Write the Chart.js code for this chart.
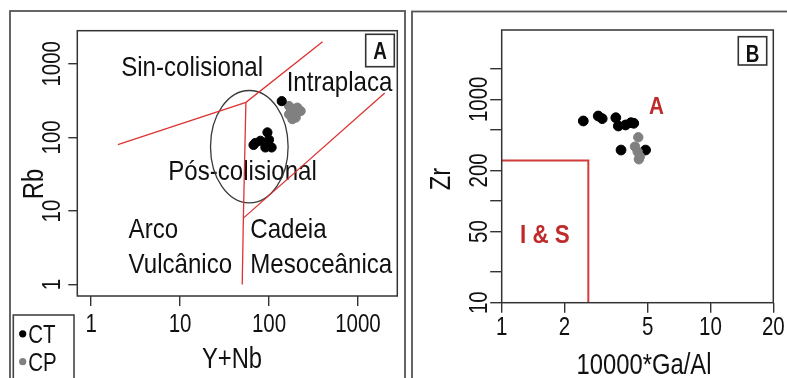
<!DOCTYPE html>
<html>
<head>
<meta charset="utf-8">
<script src="https://cdn.jsdelivr.net/npm/chart.js@4.4.1/dist/chart.umd.min.js"></script>
<style>
  html, body { margin: 0; padding: 0; background: #fff; }
  #wrap { position: relative; width: 787px; height: 378px; overflow: hidden; background: #fff; }
  #wrap canvas { position: absolute; left: 0; top: 0; }
</style>
</head>
<body>
<div id="wrap">
  <canvas id="chartA" width="787" height="378" style="width:787px;height:378px"></canvas>
  <canvas id="chartB" width="787" height="378" style="width:787px;height:378px"></canvas>
</div>
<script>
// ---------- Panel A: Rb vs Y+Nb (Pearce) ----------
const CT_YNB = [139, 96, 70, 80, 100, 107, 91, 67];
const CT_RB  = [311, 117, 84, 90, 93, 73, 73, 79];
const CP_YNB = [168, 208, 227, 191, 168, 200, 183];
const CP_RB  = [267, 254, 228, 217, 206, 186, 177];

// field boundaries (Y+Nb, Rb)
const SYN_WPG_X = [2, 55, 400];
const SYN_WPG_Y = [80, 300, 2000];
const VAG_X = [55, 51.5, 50];
const VAG_Y = [300, 8, 1];
const ORG_X = [51.5, 2000];
const ORG_Y = [8, 400];
// post-collisional field, extents of the ellipse
const POST_COL_X = [22, 164];
const POST_COL_Y = [12.9, 434];

const A_X_TICKS = [1, 10, 100, 1000];
const A_X_LABELS = ['1', '10', '100', '1000'];
const A_Y_TICKS = [1, 10, 100, 1000];
const A_Y_LABELS = ['1', '10', '100', '1000'];

// ---------- Panel B: Zr vs 10000*Ga/Al (Whalen) ----------
const CT_GAAL = [2.46, 2.90, 3.03, 3.52, 3.62, 3.92, 4.16, 4.29, 3.73, 4.89];
const CT_ZR   = [612, 685, 645, 659, 546, 559, 589, 581, 317, 317];
const CP_GAAL = [4.51, 4.35, 4.48, 4.59, 4.54];
const CP_ZR   = [423, 342, 305, 273, 257];

const IS_X = [1, 2.6, 2.6];
const IS_Y = [250, 250, 10];

const B_X_TICKS = [1, 2, 5, 10, 20];
const B_X_LABELS = ['1', '2', '5', '10', '20'];
const B_Y_TICKS = [10, 20, 50, 100, 200, 500, 1000, 2000];
const B_Y_LABELS = ['10', '', '50', '', '200', '', '1000', ''];

// ---------- styling ----------
const SANS = "'Liberation Sans', Arial, sans-serif";
const SQUEEZE = 0.82;          // condensed lettering
const INK = '#111';
const AXIS = '#333';
const RED_A = '#dd3333';
const RED_B = '#d23c3c';
const RED_TEXT = '#bf2a2a';

Chart.defaults.font.family = SANS;
Chart.defaults.color = INK;

function pts(xs, ys) { return xs.map((v, i) => ({ x: v, y: ys[i] })); }

function text(ctx, str, x, y, font, color, align, baseline, rot, sq) {
  ctx.save();
  ctx.translate(x, y);
  if (rot) ctx.rotate(rot);
  ctx.scale(sq || SQUEEZE, 1);
  ctx.font = font;
  ctx.fillStyle = color;
  ctx.textAlign = align;
  ctx.textBaseline = baseline;
  ctx.fillText(str, 0, 0);
  ctx.restore();
}

function logAxis(min, max, ticks, side, tickLen) {
  const horizontal = side === 'bottom';
  return {
    type: 'logarithmic',
    position: side,
    min: min,
    max: max,
    afterBuildTicks: s => { s.ticks = ticks.map(v => ({ value: v })); },
    afterFit: s => { if (horizontal) s.height = 40; else s.width = 30; },
    grid: { display: true, drawOnChartArea: false, drawTicks: true, tickLength: tickLen, color: AXIS, lineWidth: 1.4 },
    border: { display: false },
    ticks: { display: false }
  };
}

// Frame, box, tick labels, titles, annotations, legend
function decor(cfg) {
  return {
    id: 'decor',
    beforeDatasetsDraw(chart) {
      const { ctx, scales: { x, y } } = chart;
      (cfg.notes || []).forEach(n => {
        text(ctx, n.text, x.getPixelForValue(n.x), y.getPixelForValue(n.y), n.font, n.color, 'left', 'alphabetic', 0, 0.86);
      });
      if (cfg.ellipse) {
        const px0 = x.getPixelForValue(cfg.ellipse.x[0]), px1 = x.getPixelForValue(cfg.ellipse.x[1]);
        const py0 = y.getPixelForValue(cfg.ellipse.y[0]), py1 = y.getPixelForValue(cfg.ellipse.y[1]);
        ctx.save();
        ctx.beginPath();
        ctx.ellipse((px0 + px1) / 2, (py0 + py1) / 2, Math.abs(px1 - px0) / 2, Math.abs(py1 - py0) / 2, 0, 0, Math.PI * 2);
        ctx.strokeStyle = '#3a3a3a';
        ctx.lineWidth = 1.3;
        ctx.stroke();
        ctx.restore();
      }
    },
    afterDraw(chart) {
      const { ctx, chartArea: a, scales: { x, y } } = chart;
      ctx.save();
      // outer panel frame
      ctx.strokeStyle = '#555';
      ctx.lineWidth = 1.8;
      ctx.strokeRect(cfg.frame[0], cfg.frame[1], cfg.frame[2], cfg.frame[3]);
      // plot box
      ctx.strokeStyle = AXIS;
      ctx.lineWidth = 1.5;
      ctx.strokeRect(a.left, a.top, a.right - a.left, a.bottom - a.top);
      // panel tag
      const t = cfg.tag;
      ctx.strokeStyle = '#333';
      ctx.lineWidth = 1.6;
      ctx.strokeRect(t.rect[0], t.rect[1], t.rect[2], t.rect[3]);
      text(ctx, t.text, t.rect[0] + t.rect[2] / 2, t.base, 'bold 23px ' + SANS, INK, 'center', 'alphabetic');
      ctx.restore();
      // x tick labels
      x.ticks.forEach((tk, i) => {
        const lab = cfg.xLabels[i];
        if (lab) text(ctx, lab, x.getPixelForValue(tk.value), cfg.xLabelBase, '25px ' + SANS, INK, 'center', 'alphabetic');
      });
      // rotated y tick labels
      y.ticks.forEach((tk, i) => {
        const lab = cfg.yLabels[i];
        if (lab) text(ctx, lab, a.left - cfg.yLabelGap, y.getPixelForValue(tk.value), '25px ' + SANS, INK, 'center', 'alphabetic', -Math.PI / 2);
      });
      // axis titles
      text(ctx, cfg.xTitle.text, cfg.xTitle.x, cfg.xTitle.y, '29px ' + SANS, INK, 'center', 'alphabetic');
      text(ctx, cfg.yTitle.text, cfg.yTitle.x, cfg.yTitle.y, '29px ' + SANS, INK, 'center', 'alphabetic', -Math.PI / 2);
      // legend
      if (cfg.legend) {
        const L = cfg.legend;
        ctx.save();
        ctx.strokeStyle = '#444';
        ctx.lineWidth = 1.6;
        ctx.strokeRect(L.rect[0], L.rect[1], L.rect[2], L.rect[3]);
        chart.data.datasets.filter(d => d.legend).forEach((d, i) => {
          const cy = L.rows[i];
          ctx.beginPath();
          ctx.arc(L.dotX, cy, 3.6, 0, Math.PI * 2);
          ctx.fillStyle = d.backgroundColor;
          ctx.fill();
          text(ctx, d.label, L.textX, cy + 8.8, '25px ' + SANS, INK, 'left', 'alphabetic');
        });
        ctx.restore();
      }
    }
  };
}

const common = {
  responsive: false,
  animation: false,
  devicePixelRatio: 1,
  events: [],
  plugins: { legend: { display: false }, tooltip: { enabled: false } }
};

function boundary(xs, ys, color, width) {
  return { type: 'line', data: pts(xs, ys), borderColor: color, borderWidth: width, pointRadius: 0,
           fill: false, tension: 0, showLine: true, order: 3 };
}

// ---------- Chart A ----------
new Chart(document.getElementById('chartA'), {
  type: 'scatter',
  data: {
    datasets: [
      { label: 'CT', legend: true, data: pts(CT_YNB, CT_RB), backgroundColor: '#000', borderColor: '#000', pointRadius: 4.6, order: 0 },
      { label: 'CP', legend: true, data: pts(CP_YNB, CP_RB), backgroundColor: '#808080', borderColor: '#808080', pointRadius: 4.6, order: 1 },
      boundary(SYN_WPG_X, SYN_WPG_Y, RED_A, 1.3),
      boundary(VAG_X, VAG_Y, RED_A, 1.3),
      boundary(ORG_X, ORG_Y, RED_A, 1.3)
    ]
  },
  options: Object.assign({}, common, {
    layout: { padding: { left: 47.3, right: 389.7, top: 30.7, bottom: 42 } },
    scales: {
      x: logAxis(0.74, 2768, A_X_TICKS, 'bottom', 10),
      y: logAxis(0.749, 2818, A_Y_TICKS, 'left', 9)
    }
  }),
  plugins: [decor({
    frame: [10, 11, 395, 400],
    tag: { text: 'A', rect: [365.7, 34.3, 28.6, 32.4], base: 59.3 },
    xLabels: A_X_LABELS,
    xLabelBase: 332,
    yLabels: A_Y_LABELS,
    yLabelGap: 17,
    xTitle: { text: 'Y+Nb', x: 232, y: 368 },
    yTitle: { text: 'Rb', x: 42.7, y: 184 },
    ellipse: { x: POST_COL_X, y: POST_COL_Y },
    notes: [
      { text: 'Sin-colisional', x: 2.18, y: 692, font: '28px ' + SANS, color: INK },
      { text: 'Intraplaca', x: 158, y: 425, font: '28px ' + SANS, color: INK },
      { text: 'Pós-colisional', x: 7.37, y: 26, font: '28px ' + SANS, color: INK },
      { text: 'Arco', x: 2.64, y: 4.26, font: '28px ' + SANS, color: INK },
      { text: 'Vulcânico', x: 2.64, y: 1.44, font: '28px ' + SANS, color: INK },
      { text: 'Cadeia', x: 61.6, y: 4.26, font: '28px ' + SANS, color: INK },
      { text: 'Mesoceânica', x: 61.6, y: 1.44, font: '28px ' + SANS, color: INK }
    ],
    legend: { rect: [13.3, 315, 60.7, 80], dotX: 22.7, textX: 28.3, rows: [333.8, 361.7] }
  })]
});

// ---------- Chart B ----------
new Chart(document.getElementById('chartB'), {
  type: 'scatter',
  data: {
    datasets: [
      { label: 'CT', data: pts(CT_GAAL, CT_ZR), backgroundColor: '#000', borderColor: '#000', pointRadius: 4.9, order: 1 },
      { label: 'CP', data: pts(CP_GAAL, CP_ZR), backgroundColor: '#808080', borderColor: '#808080', pointRadius: 4.7, order: 0 },
      boundary(IS_X, IS_Y, RED_B, 2)
    ]
  },
  options: Object.assign({}, common, {
    layout: { padding: { left: 471.7, right: 13.7, top: 30, bottom: 35.3 } },
    scales: {
      x: logAxis(1, 20, B_X_TICKS, 'bottom', 10),
      y: logAxis(10, 4800, B_Y_TICKS, 'left', 11.5)
    }
  }),
  plugins: [decor({
    frame: [412, 11.5, 400, 400],
    tag: { text: 'B', rect: [738.3, 36.7, 28.4, 28.3], base: 61.7 },
    xLabels: B_X_LABELS,
    xLabelBase: 334.5,
    yLabels: B_Y_LABELS,
    yLabelGap: 15,
    xTitle: { text: '10000*Ga/Al', x: 644, y: 374 },
    yTitle: { text: 'Zr', x: 450, y: 179 },
    notes: [
      { text: 'A', x: 5.08, y: 716, font: 'bold 24px ' + SANS, color: RED_TEXT },
      { text: 'I & S', x: 1.224, y: 38.9, font: 'bold 26px ' + SANS, color: RED_TEXT }
    ]
  })]
});
</script>
</body>
</html>
